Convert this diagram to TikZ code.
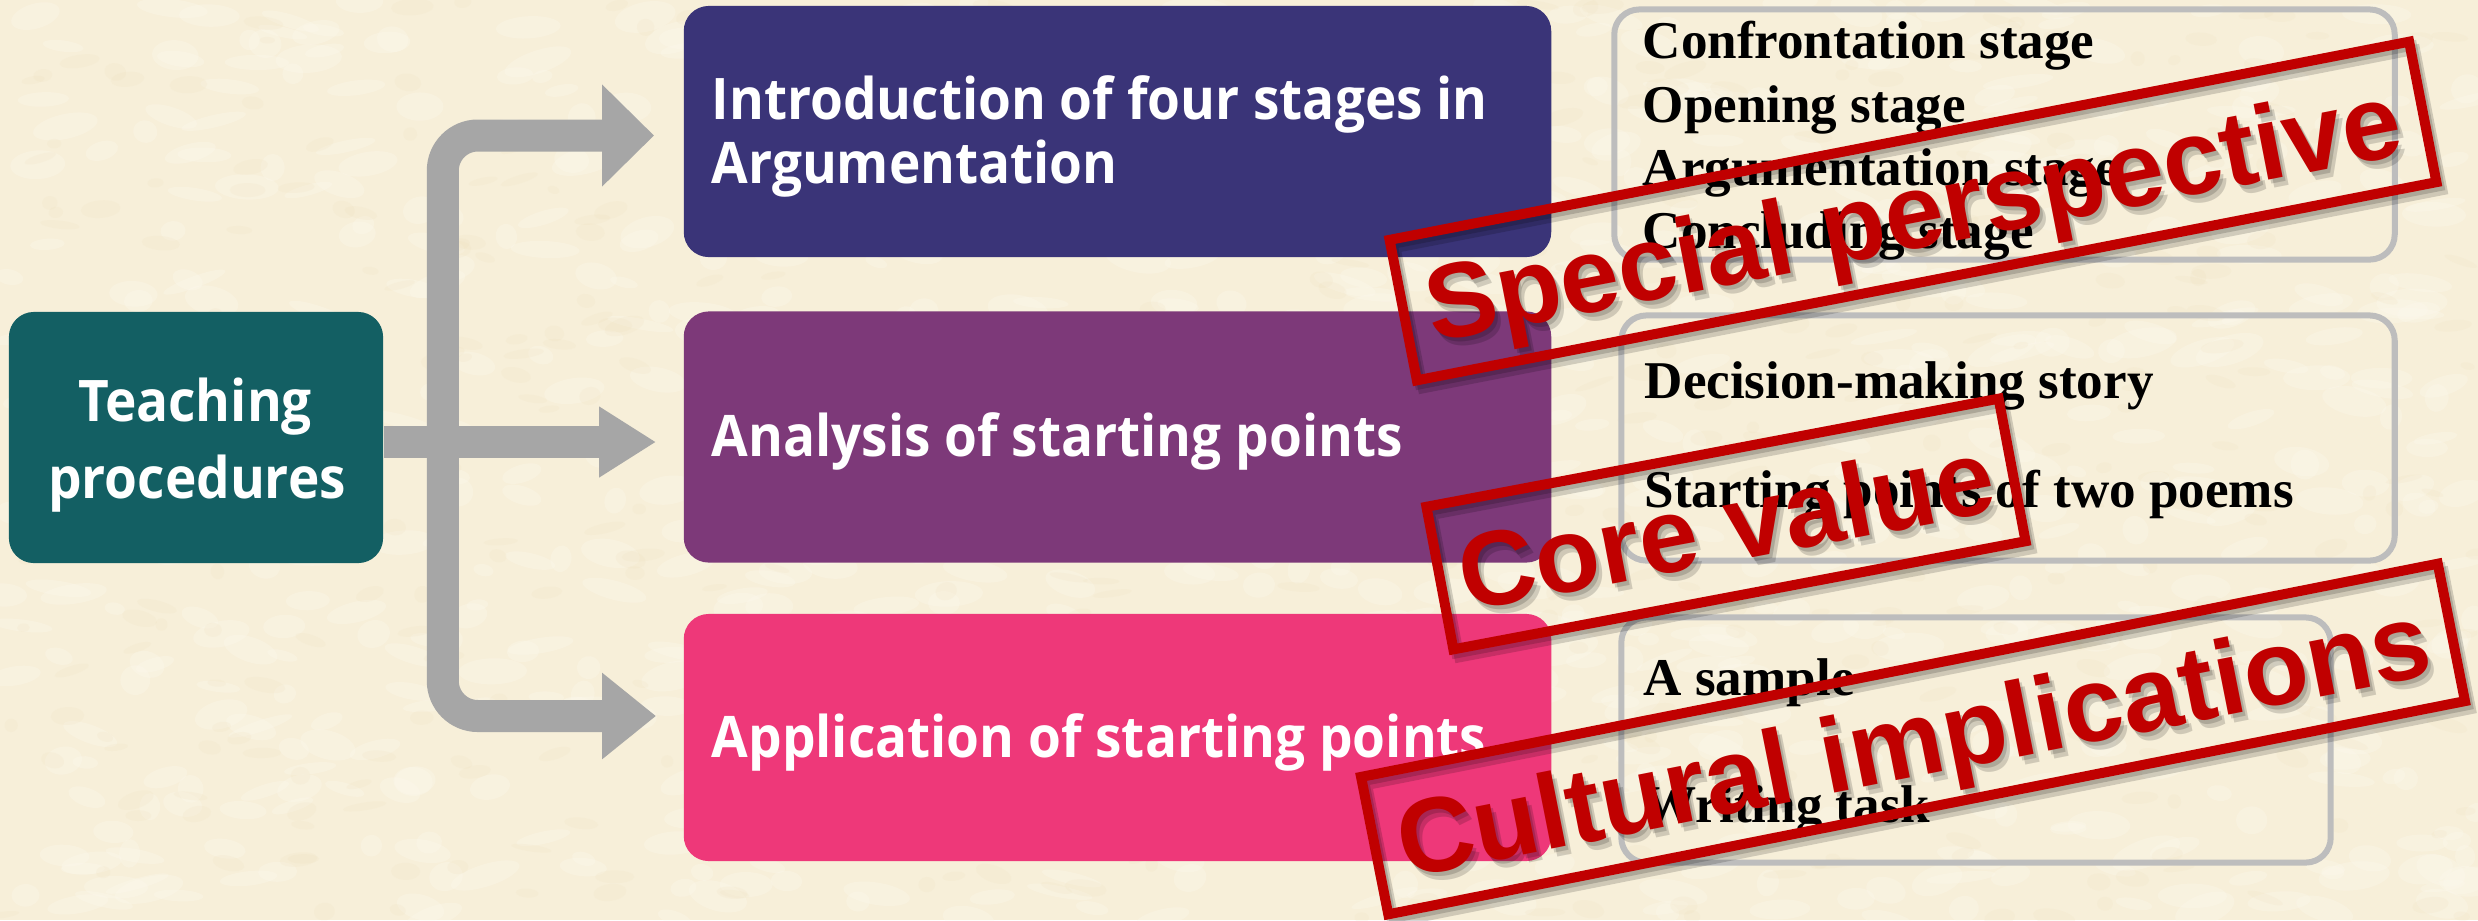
\documentclass[tikz,border=0pt]{standalone}
\usepackage{fontspec}
\setmainfont{Liberation Serif}
\newfontfamily\uifont[FakeStretch=0.927]{Open Sans}
\newfontfamily\stampfont{Liberation Sans}
\usetikzlibrary{arrows.meta,calc}
\definecolor{bg}{HTML}{F7EFD9}
\definecolor{bglight}{HTML}{FDFAF0}
\definecolor{bgdark}{HTML}{EEDFBA}
\definecolor{tealbox}{HTML}{135F63}
\definecolor{indigobox}{HTML}{3A3478}
\definecolor{purplebox}{HTML}{7D3979}
\definecolor{pinkbox}{HTML}{EE3879}
\definecolor{arrowgray}{HTML}{A6A6A6}
\definecolor{framegray}{HTML}{BDBDBD}
\definecolor{stampred}{HTML}{C00000}
\tikzset{
  mainbox/.style={rounded corners=0.25cm, inner sep=0pt, minimum height=2.51cm},
  procbox/.style={mainbox, minimum width=8.67cm},
  boxtext/.style={text=white, inner sep=0pt, font=\uifont\bfseries\fontsize{16.3pt}{19pt}\selectfont},
  graybox/.style={draw=framegray, line width=0.06cm, rounded corners=0.25cm},
  itemtext/.style={font=\bfseries\fontsize{15.1pt}{18pt}\selectfont, inner sep=0pt, anchor=base west},
  garrow/.style={draw=arrowgray, line width=0.32cm},
  stampbox/.style={draw=stampred, line width=0.1cm, text=stampred, inner sep=0pt,
    font=\stampfont\bfseries\fontsize{30.2pt}{32pt}\selectfont, text height=0.76cm, text depth=0pt},
  stampshadow/.style={stampbox, draw=black, text=black, opacity=0.16}
}
\begin{document}
\begin{tikzpicture}[x=0.01cm,y=-0.01cm]
\useasboundingbox (0,0) rectangle (2478,920);
\fill[bg] (0,0) rectangle (2478,920);
% paper texture
\pgfmathsetseed{4242}
\foreach \i in {1,...,900}{
  \pgfmathsetmacro{\px}{1239+1239*rand}
  \pgfmathsetmacro{\py}{460+460*rand}
  \pgfmathsetmacro{\rw}{10+26*rnd}
  \pgfmathsetmacro{\rh}{5+10*rnd}
  \fill[bglight, opacity=0.28, rotate around={20*rand:(\px,\py)}] (\px,\py) ellipse ({\rw*0.01cm} and {\rh*0.01cm});
}
\foreach \i in {1,...,500}{
  \pgfmathsetmacro{\px}{1239+1239*rand}
  \pgfmathsetmacro{\py}{460+460*rand}
  \pgfmathsetmacro{\rw}{6+16*rnd}
  \pgfmathsetmacro{\rh}{3+6*rnd}
  \fill[bgdark, opacity=0.16, rotate around={20*rand:(\px,\py)}] (\px,\py) ellipse ({\rw*0.01cm} and {\rh*0.01cm});
}

% left box
\node[mainbox, fill=tealbox, minimum width=3.74cm] (tp) at (196,437.5) {};
\node[boxtext, anchor=base] (tp1) at (195,421) {Teaching};
\node[boxtext, anchor=base] (tp2) at (197,498) {procedures};

% process boxes
\node[procbox, fill=indigobox] (b1) at (1117.5,131.5) {};
\node[procbox, fill=purplebox] (b2) at (1117.5,437) {};
\node[procbox, fill=pinkbox, minimum height=2.47cm] (b3) at (1117.5,737.5) {};
\node[boxtext, anchor=base west] (b1a) at (711,119) {Introduction of four stages in};
\node[boxtext, anchor=base west] (b1b) at (711,183) {Argumentation};
\node[boxtext, anchor=base west] (b2a) at (711,456) {Analysis of starting points};
\node[boxtext, anchor=base west] (b3a) at (711,757) {Application of starting points};

% arrows
\coordinate (junc) at ($(tp.east)+(59,4.5)$);
\coordinate (tipA) at ($(b1.west)+(-29,4)$);
\coordinate (tipB) at ($(b2.west)+(-27,5)$);
\coordinate (tipC) at ($(b3.west)+(-27,-21.5)$);
\draw[garrow, rounded corners=0.35cm, -{Triangle[length=0.52cm,width=0.99cm]}] (junc) |- (tipA);
\draw[garrow, rounded corners=0.35cm, -{Triangle[length=0.54cm,width=0.83cm]}] (junc) |- (tipC);
\draw[garrow, -{Triangle[length=0.57cm,width=0.67cm]}] ($(tp.east)+(0,4.5)$) -- (tipB);

% gray frames
\node[graybox, minimum width=7.80cm, minimum height=2.50cm] (g1) at (2004.5,134.5) {};
\node[graybox, minimum width=7.73cm, minimum height=2.45cm] (g2) at (2008,438) {};
\node[graybox, minimum width=7.09cm, minimum height=2.45cm] (g3) at (1976,740) {};

\node[itemtext] (i11) at (1642,58) {Confrontation stage};
\node[itemtext] (i12) at (1642,122) {Opening stage};
\node[itemtext] (i13) at (1642,185) {Argumentation stage};
\node[itemtext] (i14) at (1642,248) {Concluding stage};
\node[itemtext] (i21) at (1644,398) {Decision-making story};
\node[itemtext] (i22) at (1644,507) {Starting points of two poems};
\node[itemtext] (i31) at (1643,695) {A sample};
\node[itemtext] (i32) at (1643,822) {Writing task};

% stamps with soft shadows
\foreach \dx/\dy in {3/4,6/8}{
  \node[stampshadow, rotate=11, minimum width=10.38cm, minimum height=1.43cm] at (1913+\dx,211+\dy) {Special perspective};
  \node[stampshadow, rotate=10.7, minimum width=5.82cm, minimum height=1.45cm] at (1726+\dx,524+\dy) {Core value};
  \node[stampshadow, rotate=11.2, minimum width=10.97cm, minimum height=1.40cm] at (1913+\dx,739+\dy) {Cultural implications};
}
\node[stampbox, rotate=11, minimum width=10.38cm, minimum height=1.43cm] (s1) at (1913,211) {Special perspective};
\node[stampbox, rotate=10.7, minimum width=5.82cm, minimum height=1.45cm] (s2) at (1726,524) {Core value};
\node[stampbox, rotate=11.2, minimum width=10.97cm, minimum height=1.40cm] (s3) at (1913,739) {Cultural implications};
\end{tikzpicture}
\end{document}
